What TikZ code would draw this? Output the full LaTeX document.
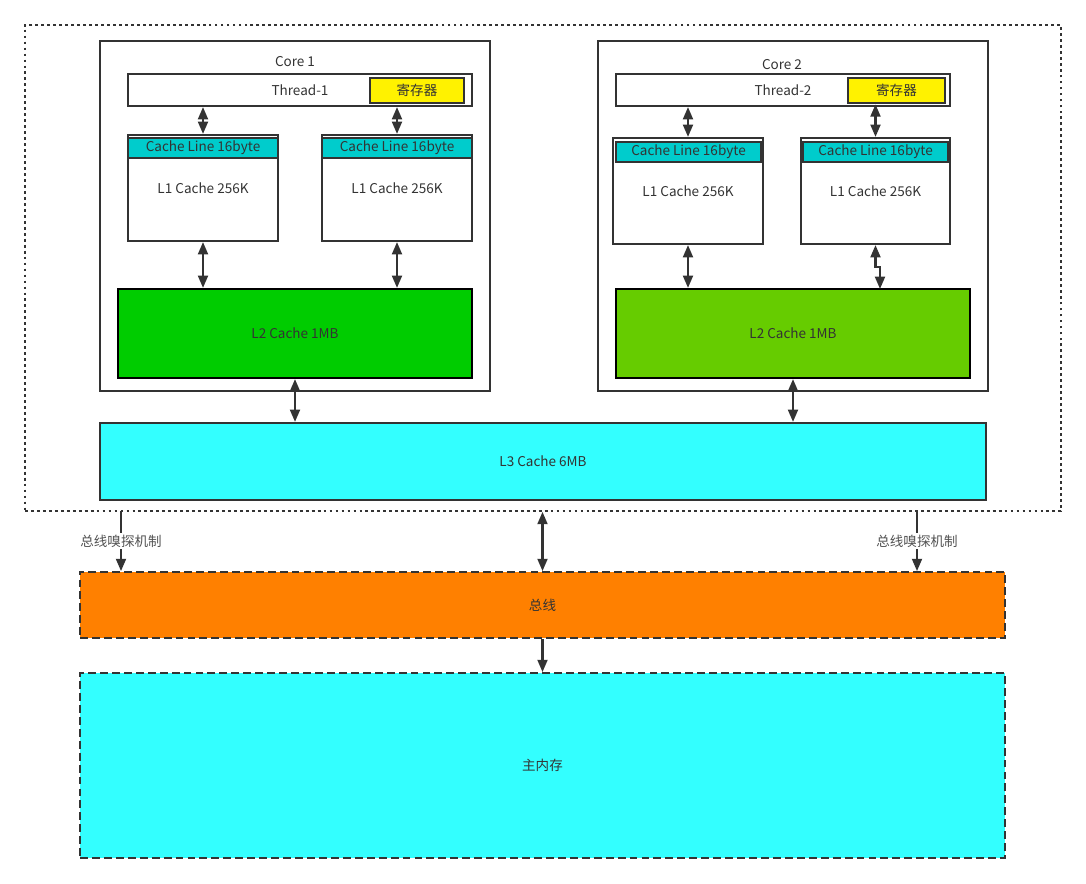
\documentclass[tikz,border=0pt]{standalone}
\usepackage{fontspec}
\setmainfont{Noto Sans CJK SC}
\usetikzlibrary{arrows.meta}
\definecolor{ink}{HTML}{333333}
\definecolor{clcyan}{HTML}{00CCCC}
\definecolor{ltwo}{HTML}{00CC00}
\definecolor{ltwob}{HTML}{66CC00}
\definecolor{lthree}{HTML}{33FFFF}
\definecolor{busorange}{HTML}{FF8000}
\tikzset{
  blk/.style 2 args={draw=ink, line width=1.2pt, minimum width=#1*0.02cm, minimum height=#2*0.02cm, inner sep=0pt, text=ink},
  dashblk/.style={line width=1pt, dash pattern=on 4.5pt off 2.3pt},
  both/.style={draw=ink, line width=1.3pt, {Triangle[length=7pt,width=5.6pt]}-{Triangle[length=7pt,width=5.6pt]}},
  down/.style={draw=ink, line width=1.3pt, -{Triangle[length=7pt,width=5.6pt]}},
}
\begin{document}
\begin{tikzpicture}[x=0.02cm, y=-0.02cm, font=\fontsize{7.7}{9}\selectfont]
			%%%%% START %%%%%
			\useasboundingbox (0,0) rectangle (1086,884);
			
			\node[blk={1036}{486}, line width=1pt, dash pattern=on 1.6pt off 1.8pt] (outer) at (543,268) {};
			
			% core 1
			\node[blk={390}{350}] (core1) at (295,216) {};
			\node[text=ink] (core1lbl) at (295,62) {Core 1};
			\node[blk={344}{32}] (thr1) at (300,90) {Thread-1};
			\node[blk={94}{25}, fill=yellow, line width=1.5pt] (reg1) at (417,90.5) {寄存器};
			\node[blk={150}{106}] (l1a) at (203,188) {L1 Cache 256K};
			\node[blk={150}{106}] (l1b) at (397,188) {L1 Cache 256K};
			\node[blk={150}{20}, fill=clcyan] (cla) at (203,148) {Cache Line 16byte};
			\node[blk={150}{20}, fill=clcyan] (clb) at (397,148) {Cache Line 16byte};
			\node[blk={354}{89}, fill=ltwo, draw=black] (l2a) at (295,333.5) {L2 Cache 1MB};
			
			% core 2
			\node[blk={390}{350}] (core2) at (793,216) {};
			\node[text=ink] (core2lbl) at (782,65) {Core 2};
			\node[blk={334}{32}] (thr2) at (783,90) {Thread-2};
			\node[blk={97}{25}, fill=yellow, line width=1.5pt] (reg2) at (896.5,90.5) {寄存器};
			\node[blk={150}{106}] (l1c) at (688,191) {L1 Cache 256K};
			\node[blk={149}{106}] (l1d) at (875.5,191) {L1 Cache 256K};
			\node[blk={145}{20}, fill=clcyan] (clc) at (688.5,152) {Cache Line 16byte};
			\node[blk={145}{20}, fill=clcyan] (cld) at (875.5,152) {Cache Line 16byte};
			\node[blk={354}{89}, fill=ltwob, draw=black] (l2b) at (793,333.5) {L2 Cache 1MB};
			
			\node[blk={886}{77}, fill=lthree] (l3) at (543,461.5) {L3 Cache 6MB};
			
			% bus and memory
			\node[blk={925}{66}, fill=busorange, dashblk] (bus) at (542.5,605) {总线};
			\node[blk={925}{185}, fill=lthree, dashblk] (mem) at (542.5,765.5) {主内存};
			
			% arrows
			\draw[both] (thr1.south -| l1a.north) -- (l1a.north);
			\draw[both] (thr1.south -| l1b.north) -- (l1b.north);
			\draw[both] (thr2.south -| l1c.north) -- (l1c.north);
			\draw[both] (reg2.south -| l1d.north) -- (l1d.north);
			\draw[both] (l1a.south) -- (l1a.south |- l2a.north);
			\draw[both] (l1b.south) -- (l1b.south |- l2a.north);
			\draw[both] (l1c.south) -- (l1c.south |- l2b.north);
			\coordinate (jog) at (880,289);
			\draw[both] (l1d.south) -- ++(0,22) -| (jog);
			\draw[both] (l2a.south) -- (l2a.south |- l3.north);
			\draw[both] (l2b.south) -- (l2b.south |- l3.north);
			\draw[both] (outer.south -| bus.north) -- (bus.north);
			\draw[down] (bus.south) -- (mem.north);
			
			\coordinate (snA) at (121,511);
			\coordinate (snB) at (917,511);
			\draw[down] (snA) -- node[fill=white, text=ink!85, inner sep=1pt] (snAlbl) {总线嗅探机制} (snA |- bus.north);
			\draw[down] (snB) -- node[fill=white, text=ink!85, inner sep=1pt] (snBlbl) {总线嗅探机制} (snB |- bus.north);
			
			%%%%% END %%%%%
\end{tikzpicture}
\end{document}
